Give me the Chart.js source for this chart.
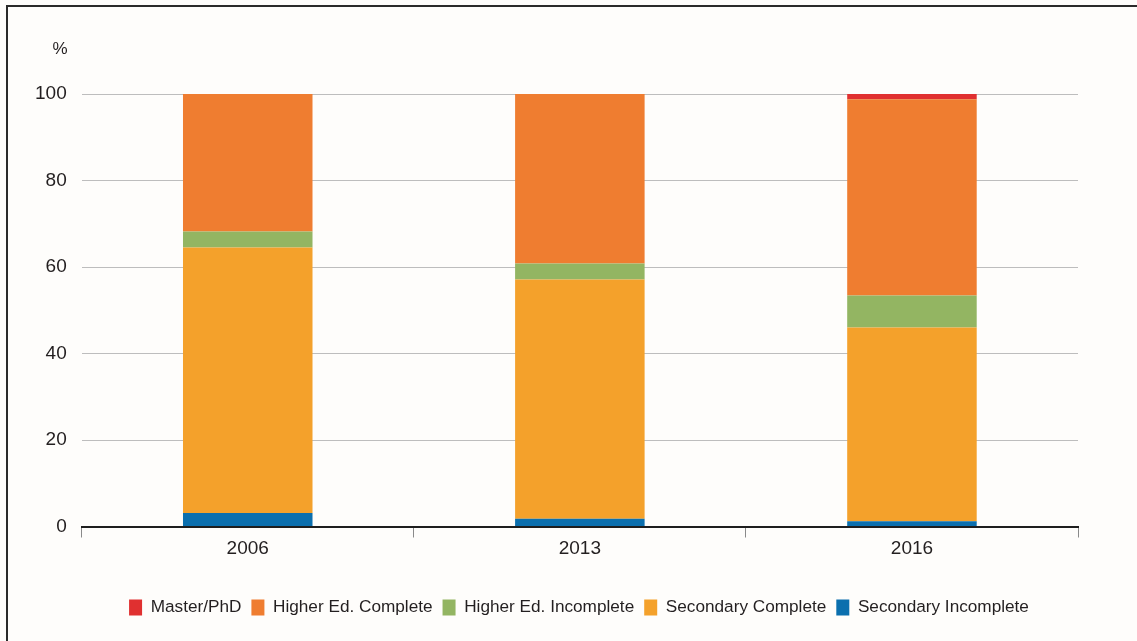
<!DOCTYPE html>
<html>
<head>
<meta charset="utf-8">
<script src="https://cdn.jsdelivr.net/npm/chart.js@4"></script>
<style>
html,body{margin:0;padding:0;background:#fefdfb;}
#wrap{position:relative;width:1137px;height:641px;}
</style>
</head>
<body>
<div id="wrap"><canvas id="c" width="1137" height="641"></canvas></div>
<script>
const years = ['2006', '2013', '2016'];
const secondaryIncomplete = [3.1, 1.8, 1.2];
const secondaryComplete = [61.4, 55.3, 44.8];
const higherIncomplete = [3.7, 3.7, 7.4];
const higherComplete = [31.8, 39.2, 45.4];
const masterPhd = [0, 0, 1.2];
const yTicks = [0, 20, 40, 60, 80, 100];
const unitLabel = '%';

const FONT = "'Liberation Sans', Arial, sans-serif";
const TXT = '#231f20';

const framePlugin = {
  id: 'frame',
  afterLayout(chart) {
    if (chart.legend) {
      chart.legend.left += 30;
      chart.legend.right += 30;
    }
  },
  beforeDraw(chart) {
    const ctx = chart.ctx;
    ctx.save();
    ctx.fillStyle = '#fefdfb';
    ctx.fillRect(0, 0, chart.width, chart.height);
    ctx.strokeStyle = '#2a2a2a';
    ctx.lineWidth = 2;
    ctx.beginPath();
    ctx.moveTo(7, chart.height);
    ctx.lineTo(7, 6);
    ctx.lineTo(chart.width, 6);
    ctx.stroke();
    ctx.restore();
  },
  afterDraw(chart) {
    const ctx = chart.ctx;
    const y = chart.scales.y;
    ctx.save();
    ctx.fillStyle = TXT;
    ctx.font = "17px " + FONT;
    ctx.textAlign = 'right';
    ctx.textBaseline = 'middle';
    ctx.fillText(unitLabel, y.right - 14, y.getPixelForValue(100) - 45);
    ctx.restore();
  }
};

const ds = (label, data, color) => ({
  label, data, backgroundColor: color, borderWidth: 0,
  categoryPercentage: 1.0, barPercentage: 0.39
});

new Chart(document.getElementById('c'), {
  type: 'bar',
  data: {
    labels: years,
    datasets: [
      ds('Secondary Incomplete', secondaryIncomplete, '#0b6fae'),
      ds('Secondary Complete', secondaryComplete, '#f4a12b'),
      ds('Higher Ed. Incomplete', higherIncomplete, '#93b562'),
      ds('Higher Ed. Complete', higherComplete, '#ef7d30'),
      ds('Master/PhD', masterPhd, '#e03030')
    ]
  },
  plugins: [framePlugin],
  options: {
    responsive: false,
    animation: false,
    layout: { padding: { left: 20, right: 59, top: 94, bottom: 15 } },
    plugins: {
      legend: {
        position: 'bottom',
        reverse: true,
        labels: {
          font: { family: FONT, size: 17.2 },
          color: TXT,
          boxWidth: 13,
          boxHeight: 16,
          padding: 10
        }
      },
      tooltip: { enabled: false },
      title: { display: false }
    },
    scales: {
      x: {
        stacked: true,
        offset: true,
        grid: { display: true, drawOnChartArea: false, drawTicks: true, tickLength: 11, color: '#8a8a8a', offset: true },
        border: { display: true, color: '#1e1e1e', width: 2 },
        ticks: { font: { family: FONT, size: 19 }, color: TXT, padding: 0 },
        afterFit(scale) { scale.height += 28.5; }
      },
      y: {
        stacked: true,
        min: 0, max: 100,
        afterBuildTicks(scale) { scale.ticks = yTicks.map(v => ({ value: v })); },
        grid: { color: '#bdbdbd', lineWidth: 1, drawTicks: false },
        border: { display: false },
        ticks: { font: { family: FONT, size: 19 }, color: TXT, padding: 15 }
      }
    }
  }
});
</script>
</body>
</html>
